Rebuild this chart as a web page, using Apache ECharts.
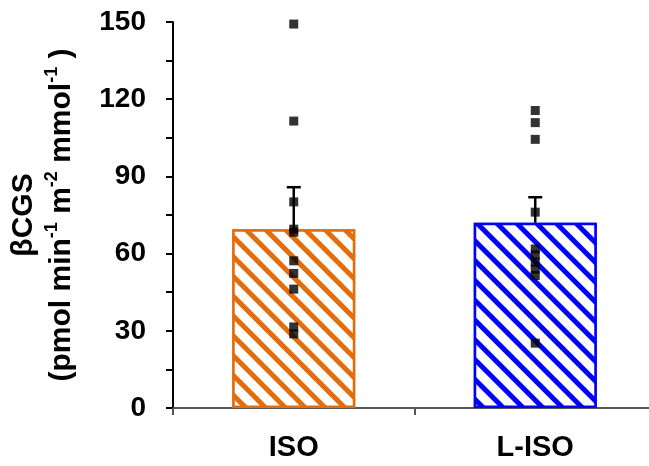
<!DOCTYPE html>
<html>
<head>
<meta charset="utf-8">
<script src="https://cdn.jsdelivr.net/npm/echarts@6/dist/echarts.min.js"></script>
<style>html,body{margin:0;padding:0;background:#fff}#c{width:649px;height:466px}</style>
</head>
<body>
<div id="c"></div>
<script>
var categories = ['ISO', 'L-ISO'];
var barMeans = [69.5, 72.0];
var errUpper = [85.8, 81.9];
var isoPoints = [149.2, 111.5, 80.1, 69.5, 68.3, 57.2, 52.3, 46.2, 31.5, 28.8];
var lisoPoints = [115.6, 110.9, 104.4, 76.1, 61.8, 59.5, 56.7, 54.0, 51.5, 25.2];
var yTicks = [0, 30, 60, 90, 120, 150];
var barColors = ['#E46C0A', '#0000FF'];

var scatterData = [];
isoPoints.forEach(function (v) { scatterData.push([0, v]); });
lisoPoints.forEach(function (v) { scatterData.push([1, v]); });

var chart = echarts.init(document.getElementById('c'));
var font = '"Liberation Sans", Arial, sans-serif';
chart.setOption({
  animation: false,
  backgroundColor: '#fff',
  grid: { left: 173, width: 483, top: 22, bottom: 58, containLabel: false, outerBoundsMode: 'none' },
  xAxis: {
    type: 'category',
    data: categories,
    axisLine: { lineStyle: { color: '#555', width: 2 } },
    axisTick: { show: true, length: 7, lineStyle: { color: '#555', width: 2 } },
    axisLabel: { color: '#000', fontSize: 29, fontWeight: 'bold', fontFamily: font, margin: 25 }
  },
  yAxis: {
    type: 'value',
    min: yTicks[0],
    max: yTicks[yTicks.length - 1],
    interval: 30,
    splitLine: { show: false },
    axisLine: { show: true, lineStyle: { color: '#000', width: 2 } },
    axisTick: { show: true, length: 7, lineStyle: { color: '#000', width: 2 } },
    minorTick: { show: true, splitNumber: 2, length: 7, lineStyle: { color: '#000', width: 2 } },
    axisLabel: { color: '#000', fontSize: 28, fontWeight: 'bold', fontFamily: font, margin: 27 },
    name: '{b|βCGS}\n{b|(pmol min}{s|-1}{b| m}{s|-2}{b| mmol}{s|-1}{b| )}',
    nameLocation: 'middle',
    nameGap: 92,
    nameTextStyle: {
      color: '#000',
      fontFamily: font,
      fontWeight: 'bold',
      lineHeight: 38,
      rich: {
        b: { fontSize: 30, fontWeight: 'bold', fontFamily: font, color: '#000', lineHeight: 38 },
        s: { fontSize: 18, fontWeight: 'bold', fontFamily: font, color: '#000', verticalAlign: 'top', lineHeight: 34 }
      }
    }
  },
  series: [
    {
      type: 'bar',
      barWidth: 123,
      data: barMeans.map(function (v, i) {
        return {
          value: v,
          itemStyle: {
            color: '#fff',
            borderColor: barColors[i],
            borderWidth: 2.5,
            decal: {
              color: barColors[i],
              backgroundColor: '#fff',
              dashArrayX: [1, 0],
              dashArrayY: [5, 9],
              rotation: Math.PI / 4,
              symbol: 'rect'
            }
          }
        };
      }),
      z: 2
    },
    {
      type: 'custom',
      z: 3,
      data: errUpper.map(function (v, i) { return [i, barMeans[i], v]; }),
      renderItem: function (params, api) {
        var base = api.coord([api.value(0), api.value(1)]);
        var top = api.coord([api.value(0), api.value(2)]);
        var hw = 7;
        return {
          type: 'group',
          children: [
            { type: 'line', shape: { x1: base[0], y1: base[1], x2: top[0], y2: top[1] }, style: { stroke: '#000', lineWidth: 2.5 } },
            { type: 'line', shape: { x1: top[0] - hw, y1: top[1], x2: top[0] + hw, y2: top[1] }, style: { stroke: '#000', lineWidth: 2.5 } }
          ]
        };
      }
    },
    {
      type: 'scatter',
      z: 4,
      symbol: 'rect',
      symbolSize: 9,
      itemStyle: { color: '#000' },
      data: scatterData
    }
  ]
});
</script>
</body>
</html>
